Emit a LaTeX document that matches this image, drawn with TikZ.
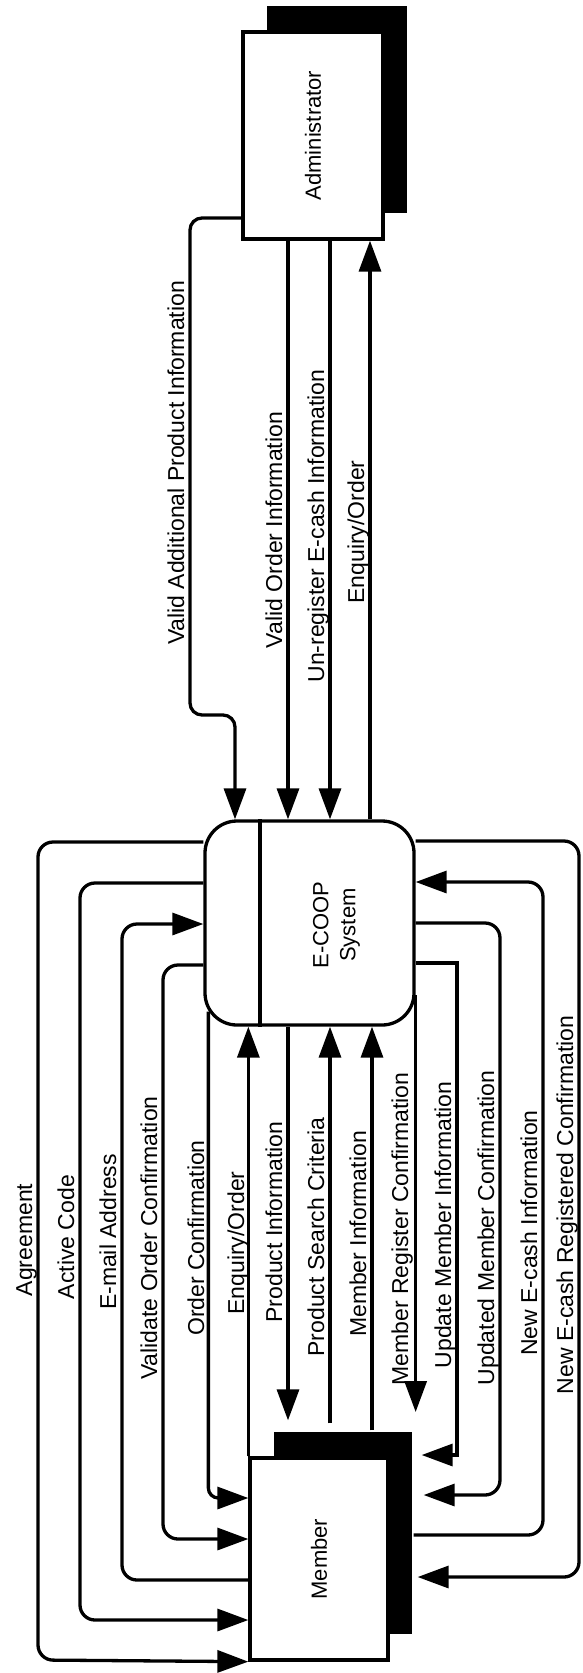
\documentclass[tikz,border=0pt]{standalone}
\usepackage{fontspec}
\setmainfont{Liberation Sans}
\usepackage{graphicx}
\usetikzlibrary{positioning, arrows.meta, shadows, calc}
\newcommand{\flowfont}{\fontsize{23}{26}\selectfont}
\newcommand{\boxfont}{\fontsize{22}{27}\selectfont}

\begin{document}
\begin{tikzpicture}[x=1pt, y=-1pt,
    extbox/.style={draw, fill=white, line width=3.3pt, inner sep=0pt, font=\boxfont,
      drop shadow={shadow xshift=24pt, shadow yshift=26pt, fill=black, opacity=1}},
    procbox/.style={draw, fill=white, line width=3.3pt, rounded corners=32pt,
      minimum width=209pt, minimum height=204pt},
    boxtext/.style={font=\boxfont, inner sep=0pt},
    flow/.style={line width=3.3pt, rounded corners=15pt, -{Triangle[length=31pt, width=22pt]}},
    flowlbl/.style={rotate=90, anchor=base, inner sep=0pt, font=\flowfont}]
  \useasboundingbox (0,0) rectangle (582,1673);
  % Entidades externas
  \node[extbox, minimum width=140pt, minimum height=207pt] (admin) at (313,135.5) {\rotatebox{90}{Administrator}};
  \node[extbox, minimum width=138pt, minimum height=202pt] (member) at (319,1559) {\rotatebox{90}{Member}};
  \coordinate (mshadow) at ($(member.north east)+(24,-26)$);
  % Processo
  \node[procbox] (ecoop) at (309.5,923) {};
  \draw[line width=3.3pt] (ecoop.north -| 260,0) -- (ecoop.south -| 260,0);
  \node[boxtext] (ecooptxt) at ($(ecoop.center)+(27,2)$)
    {\rotatebox{90}{\begin{tabular}{@{}c@{}}E-COOP\\System\end{tabular}}};

  % Administrator <-> E-COOP
  \draw[flow, rounded corners=12pt] (admin.west |- 0,218) -| (190,715) -| (ecoop.north -| 235,0);
  \draw[flow] (admin.south -| 288,0) -- (ecoop.north -| 288,0);
  \draw[flow] (admin.south -| 330,0) -- (ecoop.north -| 330,0);
  \draw[flow] (ecoop.north -| 370,0) -- (admin.south -| 370,0);
  \node[flowlbl] (vapi) at (184,463) {Valid Additional Product Information};
  \node[flowlbl] (voi) at (282,530) {Valid Order Information};
  \node[flowlbl] (uei) at (324,526) {Un-register E-cash Information};
  \node[flowlbl] (eqa) at (364,532) {Enquiry/Order};

  % Lado esquerdo
  \draw[flow] (ecoop.west |- 0,842) -| (38,1660) -- (member.south west);
  \draw[flow] (ecoop.west |- 0,883) -| (80,1620) -- (member.west |- 0,1620);
  \draw[flow] (member.west |- 0,1580) -| (122,924) -- (ecoop.west |- 0,924);
  \draw[flow] (ecoop.west |- 0,965) -| (163,1539) -- (member.west |- 0,1539);
  \draw[flow, rounded corners=10pt] ($(ecoop.south west)+(5,-15)$) |- (member.west |- 0,1498);
  \node[flowlbl] (agr) at (32,1240) {Agreement};
  \node[flowlbl] (act) at (74,1237) {Active Code};
  \node[flowlbl] (eml) at (116,1232) {E-mail Address};
  \node[flowlbl] (voc) at (157,1238) {Validate Order Confirmation};
  \node[flowlbl] (orc) at (204,1238) {Order Confirmation};

  % Meio
  \draw[flow] (member.north west) -- (ecoop.south -| member.north west);
  \draw[flow] (ecoop.south -| 288,0) -- ($(member.north -| 288,0)+(0,-36)$);
  \draw[flow] ($(member.north -| 330,0)+(0,-33)$) -- (ecoop.south -| 330,0);
  \draw[flow] (mshadow -| 372,0) -- (ecoop.south -| 372,0);
  \draw[flow] (ecoop.east |- 0,995) -- (ecoop.east |- 0,1412);
  \node[flowlbl] (eqm) at (244,1243) {Enquiry/Order};
  \node[flowlbl] (pin) at (282,1222) {Product Information};
  \node[flowlbl] (psc) at (324,1237) {Product Search Criteria};
  \node[flowlbl] (min) at (366,1234) {Member Information};
  \node[flowlbl] (mrc) at (408,1229) {Member Register Confirmation};

  % Lado direito
  \draw[flow, sharp corners, shorten >=8pt] (ecoop.east |- 0,963) -| (457,1455) -- (mshadow |- 0,1455);
  \draw[flow, shorten >=10pt] (ecoop.east |- 0,923) -| (500,1495) -- (mshadow |- 0,1495);
  \draw[flow] (mshadow |- 0,1535) -| (543,882) -- (ecoop.east |- 0,882);
  \draw[flow, shorten >=4pt] (ecoop.east |- 0,841) -| (579,1577) -- (mshadow |- 0,1577);
  \node[flowlbl] (umi) at (451,1225) {Update Member Information};
  \node[flowlbl] (umc) at (494,1228) {Updated Member Confirmation};
  \node[flowlbl] (nei) at (537,1233) {New E-cash Information};
  \node[flowlbl] (nrc) at (573,1205) {New E-cash Registered Confirmation};
\end{tikzpicture}
\end{document}
